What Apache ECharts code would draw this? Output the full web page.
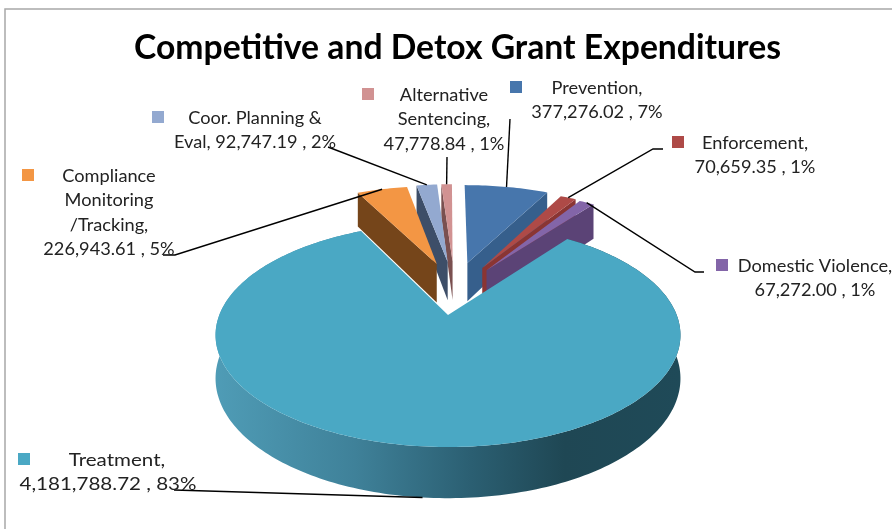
<!DOCTYPE html>
<html><head><meta charset="utf-8">
<style>html,body{margin:0;padding:0;background:#fff}#c{width:892px;height:529px}</style>
<script src="https://cdn.jsdelivr.net/npm/echarts@6/dist/echarts.min.js"></script>
</head><body><div id="c"></div>
<script>
const titleText = 'Competitive and Detox Grant Expenditures';
const names = ['Prevention','Enforcement','Domestic Violence','Treatment','Compliance Monitoring /Tracking','Coor. Planning & Eval','Alternative Sentencing'];
const values = [377276.02,70659.35,67272.00,4181788.72,226943.61,92747.19,47778.84];
const valueLabels = ['377,276.02','70,659.35','67,272.00','4,181,788.72','226,943.61','92,747.19','47,778.84'];
const pctLabels = ['7%','1%','1%','83%','5%','2%','1%'];
const labelLines = [
  ['Prevention,','377,276.02 , 7%'],
  ['Enforcement,','70,659.35 , 1%'],
  ['Domestic Violence,','67,272.00 , 1%'],
  ['Treatment,','4,181,788.72 , 83%'],
  ['Compliance','Monitoring','/Tracking,','226,943.61 , 5%'],
  ['Coor. Planning &','Eval, 92,747.19 , 2%'],
  ['Alternative','Sentencing,','47,778.84 , 1%']
];
// styles and layout
const topColors  = ['#4776ac','#ae4a47','#8365a8','#4aa8c4','#f39644','#93a9d0','#d19292'];
const wallColors = ['#365f8c','#8a3533','#5b4376','#2e6478','#75451a','#3d4e68','#7a5050'];
const drawOrder = [0,1,2,6,5,4,3];
const explodeAmt = [0.54,0.54,0.54,0,0.54,0.54,0.54];
const labelCx = [597,755,815,117,109,255,444];
const labelTop = [88,143,266,460,176,118,95];
const labelStretch = [1,1,1,1.13,1,1,1];
const keyPos = [[510,81],[672,136],[716,259],[18,453],[22,169],[152,111],[362,88]];
const leaderPts = [[[510,119]],[[663,149],[653,149]],[[704,272],[695,272]],[[174,490]],[[163,255],[175,255]],[[328,147]],[[447,157]]];

const CX=448, CY=315, R=228.7, S=108.4, K=0.179, H=42, EX=0.5, EXS=0.03;
const total = values.reduce((a,b)=>a+b,0);
const spans=[]; { let a=0; values.forEach(v=>{const s=v/total*Math.PI*2; spans.push([a,a+s]); a+=s;}); }
function offset(i){const m=(spans[i][0]+spans[i][1])/2,d=explodeAmt[i];
  if(!d) return [0,0];
  return [d*EX*Math.sin(m)+EXS, -d*Math.cos(m)];}
function proj(u,v,down){const w=1-K*v; return [CX+R*u/w, CY+S*v/w+(down?H/w:0)];}
function rim(i,t,down){const o=offset(i); return proj(o[0]+Math.sin(t),o[1]-Math.cos(t),down);}
function tip(i,down){const o=offset(i); return proj(o[0],o[1],down);}
function arc(i,down){const s=spans[i],n=Math.max(4,Math.ceil((s[1]-s[0])/0.02)),p=[];
  for(let k=0;k<=n;k++)p.push(rim(i,s[0]+(s[1]-s[0])*k/n,down));return p;}

function renderItem(params,api){
  const i=api.value(1), s=spans[i], kids=[], z=params.dataIndex*3+1;
  const mid=(s[0]+s[1])/2;
  if(explodeAmt[i]){
    const t=mid<Math.PI?s[1]:s[0];
    kids.push({type:'polygon',z2:z,shape:{points:[tip(i,false),rim(i,t,false),rim(i,t,true),tip(i,true)]},style:{fill:wallColors[i]}});
  } else {
    const top=arc(i,false), bot=arc(i,true).reverse();
    kids.push({type:'polygon',z2:z,shape:{points:top.concat(bot)},
      style:{fill:new echarts.graphic.LinearGradient(0,0,1,0,[{offset:0,color:'#4f9cb6'},{offset:0.3,color:'#3f8199'},{offset:0.55,color:'#2b5f72'},{offset:0.75,color:'#1f4754'},{offset:1,color:'#1f4a58'}])}});
  }
  kids.push({type:'polygon',z2:z+1,shape:{points:[tip(i,false)].concat(arc(i,false))},style:{fill:topColors[i]}});
  return {type:'group',children:kids};
}

const graphics=[];
graphics.push({type:'polyline',shape:{points:[[5,529],[5,9],[892,9]]},style:{stroke:'#a8a8a8',lineWidth:1.5,fill:null},z:1});
names.forEach((n,i)=>{
  const m=(spans[i][0]+spans[i][1])/2;
  const end=rim(i,m,i===3);
  graphics.push({type:'polyline',shape:{points:leaderPts[i].concat([end])},style:{stroke:'#000',lineWidth:1.4,fill:null},z:20});
  graphics.push({type:'rect',shape:{x:keyPos[i][0],y:keyPos[i][1],width:12,height:12},style:{fill:topColors[i]},z:21});
  labelLines[i].forEach((t,k)=>{
    const cx=(i===3&&k===1)?108:labelCx[i], cy=labelTop[i]+k*24.5;
    graphics.push({type:'text',z:22,x:cx,y:cy,scaleX:labelStretch[i],style:{text:t,x:0,y:0,align:'center',verticalAlign:'middle',font:'18.2px Lato',fill:'#222'}});
  });
});
graphics.push({type:'text',z:22,style:{text:titleText,x:457.5,y:48,align:'center',verticalAlign:'middle',font:'bold 33.7px Lato',fill:'#000'}});

const chart=echarts.init(document.getElementById('c'),null,{renderer:'canvas'});
chart.setOption({
  animation:false,
  backgroundColor:'#fff',
  graphic:{elements:graphics},
  series:[{type:'custom',coordinateSystem:'none',silent:true,renderItem:renderItem,
    encode:{value:0},
    data:drawOrder.map(i=>({name:names[i],value:[values[i],i]}))}]
});
</script></body></html>
